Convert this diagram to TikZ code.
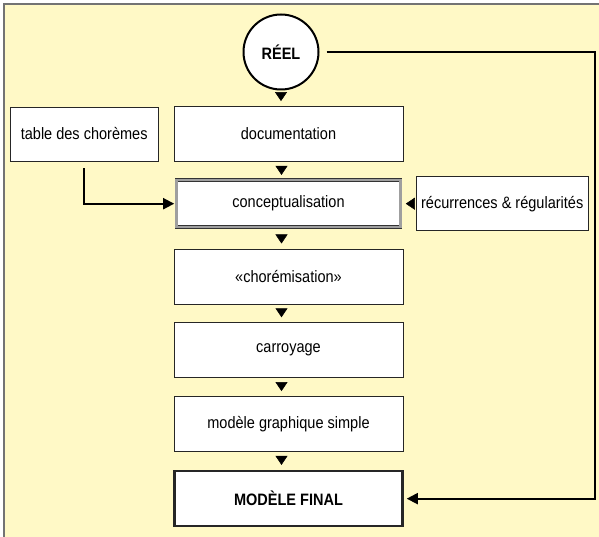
\documentclass[tikz,border=0pt]{standalone}
\usepackage{fontspec}
\setmainfont{Liberation Sans}[FakeStretch=0.88]
\usepackage{tikz}
\usetikzlibrary{positioning, arrows.meta}
\definecolor{bgyellow}{HTML}{FFF9C6}

\begin{document}
\begin{tikzpicture}[
  node distance=18pt and 15pt,
  every node/.style={align=center, font=\fontsize{16.5}{19}\selectfont},
  box/.style={draw=black!85, fill=white, line width=0.8pt, minimum width=229pt, minimum height=55pt, inner sep=2pt},
  sidebox/.style={box, minimum height=54pt},
  tri/.style={draw=bgyellow, -{Triangle[length=9pt,width=12pt,color=black]}, line width=0.5pt, shorten >=5pt, shorten <=3pt},
  link/.style={-{Triangle[length=11pt,width=11pt]}, line width=1.8pt}
  ]

\useasboundingbox (0,0) rectangle (599pt,-537pt);
\fill[bgyellow] (4pt,-4pt) rectangle (610pt,-550pt);
\draw[black!55, line width=1.5pt] (4pt,-550pt) -- (4pt,-4pt) -- (610pt,-4pt);

\node[circle, draw, line width=2pt, fill=white, minimum size=75pt, font=\fontsize{16.5}{19}\selectfont\bfseries] (reel) at (281pt,-52pt) {RÉEL};
\node[box] (doc) at (288.5pt,-134pt) {documentation};
\node[sidebox, minimum width=148pt, left=15pt of doc] (table) {table des chorèmes};
\node[box, below=of doc, minimum width=224pt, minimum height=47pt, draw=black!80, line width=0.6pt, double=gray!75, double distance=2.4pt] (concept) {conceptualisation};
\node[sidebox, minimum width=172pt, right=15pt of concept] (recur) {récurrences \& régularités};
\node[box, below=21pt of concept] (chorem) {«chorémisation»};
\node[box, below=of chorem] (carro) {carroyage};
\node[box, below=of carro] (simple) {modèle graphique simple};
\node[box, below=of simple, minimum width=228pt, minimum height=55pt, line width=2.5pt, font=\fontsize{16.5}{19}\selectfont\bfseries] (final) {MODÈLE FINAL};
\coordinate (rc) at (595pt,0);

\draw[tri] (reel.south) -- (reel.south |- doc.north);
\draw[tri] ([xshift=-7pt]doc.south) -- ([xshift=-7pt]concept.north);
\draw[tri] ([xshift=-7pt]concept.south) -- ([xshift=-7pt]chorem.north);
\draw[tri] ([xshift=-7pt]chorem.south) -- ([xshift=-7pt]carro.north);
\draw[tri] ([xshift=-7pt]carro.south) -- ([xshift=-7pt]simple.north);
\draw[tri] ([xshift=-7pt]simple.south) -- ([xshift=-7pt]final.north);
\draw[tri] (recur.west) -- (concept.east);
\draw[link, shorten <=7pt, shorten >=2pt] (table.south) |- (concept.west);
\draw[link, shorten <=7pt, shorten >=3pt] (reel.east) -- (reel.east -| rc) -- (final.east -| rc) -- (final.east);
\end{tikzpicture}
\end{document}
